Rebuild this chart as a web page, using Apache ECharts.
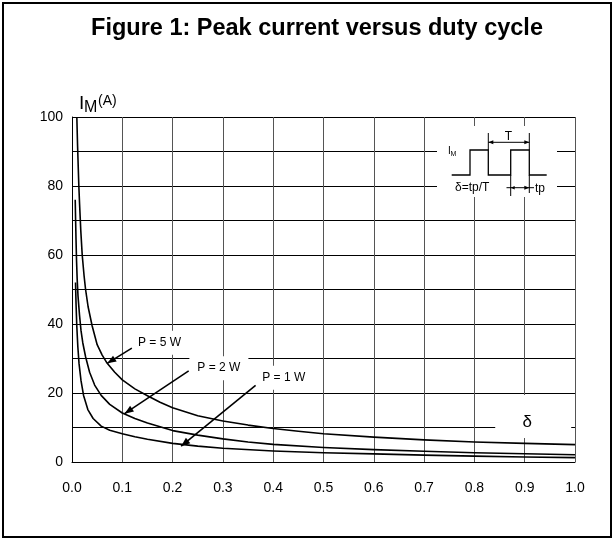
<!DOCTYPE html>
<html><head><meta charset="utf-8">
<script src="https://cdn.jsdelivr.net/npm/echarts@6/dist/echarts.min.js"></script>
<style>html,body{margin:0;padding:0;background:#fff}#c{width:615px;height:540px}</style>
</head><body><div id="c"></div>
<script>
// ---- data ----
const xTickLabels = ['0.0','0.1','0.2','0.3','0.4','0.5','0.6','0.7','0.8','0.9','1.0'];
const yTickLabels = [0, 20, 40, 60, 80, 100];
const seriesNames = ['P = 5 W', 'P = 2 W', 'P = 1 W'];

const dutyP5 = [0.0096,0.011,0.0125,0.0136,0.015,0.0175,0.0203,0.024,0.027,0.032,0.04,0.05,0.06,0.07,0.085,0.1,0.125,0.15,0.175,0.2,0.25,0.3,0.35,0.4,0.45,0.5,0.6,0.7,0.8,0.9,1.0];
const currentP5 = [100,92,85,80,75,67,60,54,50,45,39.5,34,31,28.6,26,23.8,21.2,19.2,17.3,15.7,13.4,11.9,10.7,9.7,8.9,8.2,7.2,6.4,5.8,5.4,5.05];

const dutyP2 = [0.0064,0.0072,0.008,0.009,0.0103,0.012,0.015,0.018,0.0215,0.027,0.035,0.045,0.058,0.075,0.1,0.125,0.15,0.2,0.25,0.3,0.35,0.4,0.5,0.6,0.7,0.8,0.9,1.0];
const currentP2 = [76,70,64.5,58.5,53,48,42.5,38,34.5,30.5,26,22.3,19.3,16.7,14.2,12.6,11.3,9.1,7.8,6.7,5.8,5.1,4.2,3.6,3.1,2.7,2.4,2.1];

const dutyP1 = [0.007,0.008,0.0095,0.0116,0.014,0.018,0.023,0.0315,0.042,0.058,0.075,0.1,0.125,0.15,0.2,0.25,0.3,0.4,0.5,0.6,0.7,0.8,0.9,1.0];
const currentP1 = [52,46,39.5,33.4,28.5,23.5,19.3,15.2,12.6,10.4,9.2,8.2,7.3,6.6,5.4,4.6,4.0,3.2,2.7,2.35,2.0,1.7,1.45,1.27];

// annotation anchors (data units)
const labelAnchor = [[0.174,34.6],[0.292,27.2],[0.421,24.4]];
const arrowFrom   = [[0.119,33.0],[0.232,26.4],[0.365,22.2]];
const arrowTo     = [[0.070,28.6],[0.1045,14.0],[0.217,4.6]];

const FONT = 'Liberation Sans, Arial, Helvetica, sans-serif';
const zip = (a, b) => a.map((v, i) => [v, b[i]]);

const chart = echarts.init(document.getElementById('c'), null, {renderer: 'canvas'});
const option = {
  animation: false,
  backgroundColor: '#fff',
  title: {
    text: 'Figure 1: Peak current versus duty cycle',
    left: 312, textAlign: 'center', top: 12,
    textStyle: {fontFamily: FONT, fontWeight: 'bold', fontSize: 23.5, color: '#000'}
  },
  grid: {left: 72, right: 40, top: 117, bottom: 78, containLabel: false},
  xAxis: {
    type: 'value', min: 0, max: 1, interval: 0.1,
    axisLine: {show: true, onZero: false, lineStyle: {color: '#000', width: 1}},
    axisTick: {show: false},
    axisLabel: {margin: 19, fontFamily: FONT, fontSize: 14, color: '#000',
      formatter: (v) => xTickLabels[Math.round(v * 10)]},
    splitLine: {show: true, lineStyle: {color: '#555', width: 1}}
  },
  yAxis: {
    type: 'value', min: 0, max: 100, interval: 10,
    axisLine: {show: true, lineStyle: {color: '#000', width: 1}},
    axisTick: {show: false},
    axisLabel: {margin: 9, fontFamily: FONT, fontSize: 14, color: '#000',
      formatter: (v) => yTickLabels.indexOf(Math.round(v)) >= 0 ? String(Math.round(v)) : ''},
    splitLine: {show: true, lineStyle: {color: '#000', width: 1}}
  },
  series: [
    {name: seriesNames[0], type: 'line', data: zip(dutyP5, currentP5)},
    {name: seriesNames[1], type: 'line', data: zip(dutyP2, currentP2)},
    {name: seriesNames[2], type: 'line', data: zip(dutyP1, currentP1)}
  ].map(s => Object.assign(s, {
    showSymbol: false, symbol: 'none', smooth: false,
    lineStyle: {color: '#000', width: 1.6, join: 'round'}, z: 5, silent: true
  }))
};
chart.setOption(option);

// ---- annotations positioned via the chart's own scales ----
const px = (p) => chart.convertToPixel({gridIndex: 0}, p);
function head(tip, from, len, hw) {
  const dx = tip[0] - from[0], dy = tip[1] - from[1];
  const L = Math.hypot(dx, dy), ux = dx / L, uy = dy / L;
  const bx = tip[0] - ux * len, by = tip[1] - uy * len;
  return [[tip[0], tip[1]], [bx - uy * hw, by + ux * hw], [bx + uy * hw, by - ux * hw]];
}
function arrow(from, tip, len, hw, w) {
  return [
    {type: 'line', z: 30, shape: {x1: from[0], y1: from[1], x2: tip[0], y2: tip[1]},
      style: {stroke: '#000', lineWidth: w}},
    {type: 'polygon', z: 30, shape: {points: head(tip, from, len, hw)}, style: {fill: '#000'}}
  ];
}
const g = [];
// outer frame
g.push({type: 'rect', z: 40, shape: {x: 3, y: 3, width: 608, height: 534},
  style: {fill: 'none', stroke: '#000', lineWidth: 2}});

// curve labels with arrows
seriesNames.forEach((name, i) => {
  const c = px(labelAnchor[i]);
  g.push({type: 'text', z: 25, x: c[0], y: c[1],
    style: {text: name, fontFamily: FONT, fontSize: 12, fill: '#000',
      align: 'center', verticalAlign: 'middle', backgroundColor: '#fff', padding: [6, 8]}});
  g.push(...arrow(px(arrowFrom[i]), px(arrowTo[i]), 9, 3.5, 1.6));
});

// corner references
const TL = px([0, 100]);   // top-left of plot
const TR = px([1, 100]);   // top-right of plot
const dPos = px([0.905, 11.6]);

// y axis name I_M(A)
g.push({type: 'text', z: 25, x: TL[0] + 7, y: TL[1] - 23,
  style: {text: 'I', fontFamily: FONT, fontSize: 19, fill: '#000', align: 'left', verticalAlign: 'top'}});
g.push({type: 'text', z: 25, x: TL[0] + 12, y: TL[1] - 17,
  style: {text: 'M', fontFamily: FONT, fontSize: 16, fill: '#000', align: 'left', verticalAlign: 'top'}});
g.push({type: 'text', z: 25, x: TL[0] + 26, y: TL[1] - 23,
  style: {text: '(A)', fontFamily: FONT, fontSize: 14, fill: '#000', align: 'left', verticalAlign: 'top'}});

// delta label box
g.push({type: 'rect', z: 20, shape: {x: dPos[0] - 32, y: dPos[1] - 27, width: 76, height: 43},
  style: {fill: '#fff'}});
g.push({type: 'text', z: 25, x: dPos[0], y: dPos[1],
  style: {text: 'δ', fontFamily: FONT, fontSize: 17, fill: '#000', align: 'center', verticalAlign: 'middle'}});

// inset pulse diagram (relative to plot top-right)
const ox = TR[0], oy = TR[1];
const P = (x, y) => [ox + x, oy + y];
g.push({type: 'rect', z: 20, shape: {x: ox - 138, y: oy + 9, width: 120, height: 71}, style: {fill: '#fff'}});
g.push({type: 'polyline', z: 30, shape: {points: [
  P(-123.3, 58), P(-105, 58), P(-105, 33), P(-86.7, 33), P(-86.7, 58),
  P(-64.3, 58), P(-64.3, 33), P(-45.7, 33), P(-45.7, 58), P(-28.3, 58)]},
  style: {stroke: '#000', lineWidth: 1.3, fill: 'none'}});
const seg = (a, b) => ({type: 'line', z: 30, shape: {x1: a[0], y1: a[1], x2: b[0], y2: b[1]},
  style: {stroke: '#000', lineWidth: 1}});
g.push(seg(P(-86.7, 16), P(-86.7, 33)));
g.push(seg(P(-45.7, 16), P(-45.7, 33)));
g.push(seg(P(-64.3, 58), P(-64.3, 79)));
g.push(seg(P(-45.7, 58), P(-45.7, 76)));
// T dimension
g.push(seg(P(-86.7, 25.3), P(-45.7, 25.3)));
g.push({type: 'polygon', z: 30, shape: {points: head(P(-86.7, 25.3), P(-70, 25.3), 5, 2)}, style: {fill: '#000'}});
g.push({type: 'polygon', z: 30, shape: {points: head(P(-45.7, 25.3), P(-60, 25.3), 5, 2)}, style: {fill: '#000'}});
// tp dimension
g.push(seg(P(-68.5, 70.7), P(-41, 70.7)));
g.push({type: 'polygon', z: 30, shape: {points: head(P(-64.3, 70.7), P(-55, 70.7), 4, 1.8)}, style: {fill: '#000'}});
g.push({type: 'polygon', z: 30, shape: {points: head(P(-45.7, 70.7), P(-55, 70.7), 5, 2)}, style: {fill: '#000'}});
const txt = (s, p, size, align) => ({type: 'text', z: 30, x: p[0], y: p[1],
  style: {text: s, fontFamily: FONT, fontSize: size, fill: '#000', align: align || 'left', verticalAlign: 'middle'}});
g.push(txt('T', P(-66.5, 19.5), 12, 'center'));
g.push(txt('I', P(-127, 34), 10));
g.push(txt('M', P(-124.5, 37), 7));
g.push(txt('δ=tp/T', P(-120, 71), 12));
g.push(txt('tp', P(-40, 71.5), 12));

chart.setOption({graphic: {elements: g}});
</script>
</body></html>
